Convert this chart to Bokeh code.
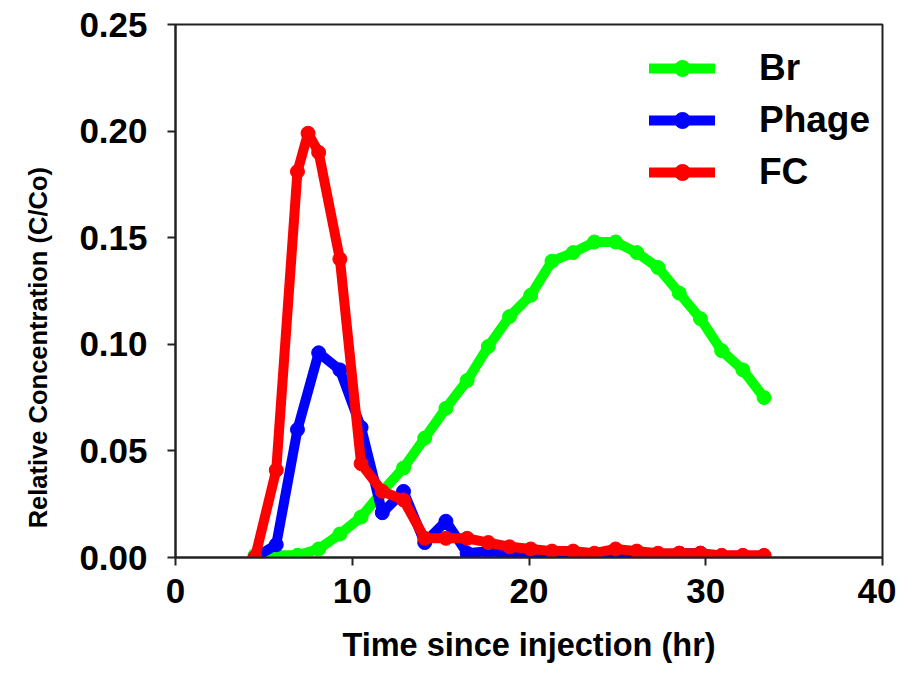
from bokeh.plotting import figure
from bokeh.models import Range1d, FixedTicker, NumeralTickFormatter, Legend, LegendItem
from bokeh.embed import file_html
from bokeh.resources import INLINE

# ---- data ----
time_br = [4.5, 5.7, 6.9, 8.1, 9.3, 10.5, 11.7, 12.9, 14.1, 15.3, 16.5, 17.7, 18.9,
           20.1, 21.3, 22.5, 23.7, 24.9, 26.1, 27.3, 28.5, 29.7, 30.9, 32.1, 33.3]
br = [0.001, 0.001, 0.001, 0.004, 0.011, 0.019, 0.031, 0.042, 0.056, 0.070, 0.083, 0.099, 0.113,
      0.123, 0.139, 0.143, 0.148, 0.148, 0.143, 0.136, 0.124, 0.112, 0.097, 0.088, 0.075]

time_phage = [4.5, 5.7, 6.9, 8.1, 9.3, 10.5, 11.7, 12.9, 14.1, 15.3, 16.5, 17.7, 18.9,
              20.1, 21.3, 22.5, 23.7, 24.9, 26.1, 27.3, 28.5, 29.7, 30.9, 32.1, 33.3]
phage = [0.000, 0.006, 0.060, 0.096, 0.088, 0.061, 0.021, 0.031, 0.007, 0.017, 0.002, 0.003, 0.002,
         0.000, 0.000, 0.001, 0.000, 0.001, 0.001, 0.000, 0.002, 0.002, 0.000, 0.000, 0.000]

time_fc = [4.5, 5.7, 6.9, 7.5, 8.1, 9.3, 10.5, 11.7, 12.9, 14.1, 15.3, 16.5, 17.7, 18.9,
           20.1, 21.3, 22.5, 23.7, 24.9, 26.1, 27.3, 28.5, 29.7, 30.9, 32.1, 33.3]
fc = [0.000, 0.041, 0.181, 0.199, 0.190, 0.140, 0.044, 0.031, 0.027, 0.009, 0.009, 0.009, 0.007, 0.005,
      0.004, 0.003, 0.003, 0.002, 0.004, 0.003, 0.002, 0.002, 0.002, 0.001, 0.001, 0.001]

x_ticks = [0, 10, 20, 30, 40]
y_ticks = [0.0, 0.05, 0.10, 0.15, 0.20, 0.25]

series = [("Br", time_br, br, "#00FF00"),
          ("Phage", time_phage, phage, "#0000FF"),
          ("FC", time_fc, fc, "#FF0000")]

x_title = "Time since injection (hr)"
y_title = "Relative Concentration (C/Co)"

FONT = "Liberation Sans"

p = figure(width=896, height=665, output_backend="svg", toolbar_location=None,
           x_range=Range1d(0, 40), y_range=Range1d(0, 0.25),
           min_border_left=175, min_border_right=14, min_border_top=24, min_border_bottom=108)

p.xgrid.visible = False
p.ygrid.visible = False
p.outline_line_color = "#222222"
p.outline_line_width = 2
p.background_fill_color = "white"
p.border_fill_color = "white"

for ax in (p.xaxis[0], p.yaxis[0]):
    ax.axis_line_color = "#222222"
    ax.axis_line_width = 2
    ax.major_tick_line_color = "#222222"
    ax.major_tick_line_width = 2
    ax.major_tick_in = 0
    ax.major_tick_out = 8
    ax.minor_tick_line_color = None
    ax.major_label_text_font = FONT
    ax.major_label_text_font_style = "bold"
    ax.major_label_text_font_size = "35px"
    ax.major_label_text_color = "black"
    ax.axis_label_text_font = FONT
    ax.axis_label_text_font_style = "bold"
    ax.axis_label_text_color = "black"

p.xaxis.ticker = FixedTicker(ticks=x_ticks)
p.yaxis.ticker = FixedTicker(ticks=y_ticks)
p.yaxis.formatter = NumeralTickFormatter(format="0.00")
p.xaxis.major_label_standoff = 13
p.yaxis.major_label_standoff = 20
p.xaxis.axis_label = x_title
# trailing no-break spaces shift the vertical title downwards, as in the reference
p.yaxis.axis_label = y_title + "\u00a0" * 16
p.xaxis.axis_label_text_font_size = "32.5px"
p.yaxis.axis_label_text_font_size = "25.5px"
p.xaxis.axis_label_standoff = 21
p.yaxis.axis_label_standoff = 24

items = []
for name, t, c, col in series:
    ln = p.line(t, c, line_color=col, line_width=10, line_join="round", line_cap="round")
    sc = p.scatter(t, c, marker="circle", size=14, fill_color=col, line_color=col)
    items.append(LegendItem(label=name, renderers=[ln, sc]))

legend = Legend(items=items, location=(474, 364), orientation="vertical",
                glyph_width=66, glyph_height=40, label_height=40, spacing=10,
                label_standoff=44, padding=0, margin=0,
                border_line_color=None, background_fill_alpha=0,
                label_text_font=FONT, label_text_font_style="bold",
                label_text_font_size="37px", label_text_color="black")
p.add_layout(legend, "center")

open("out.html", "w").write(file_html(p, INLINE))
